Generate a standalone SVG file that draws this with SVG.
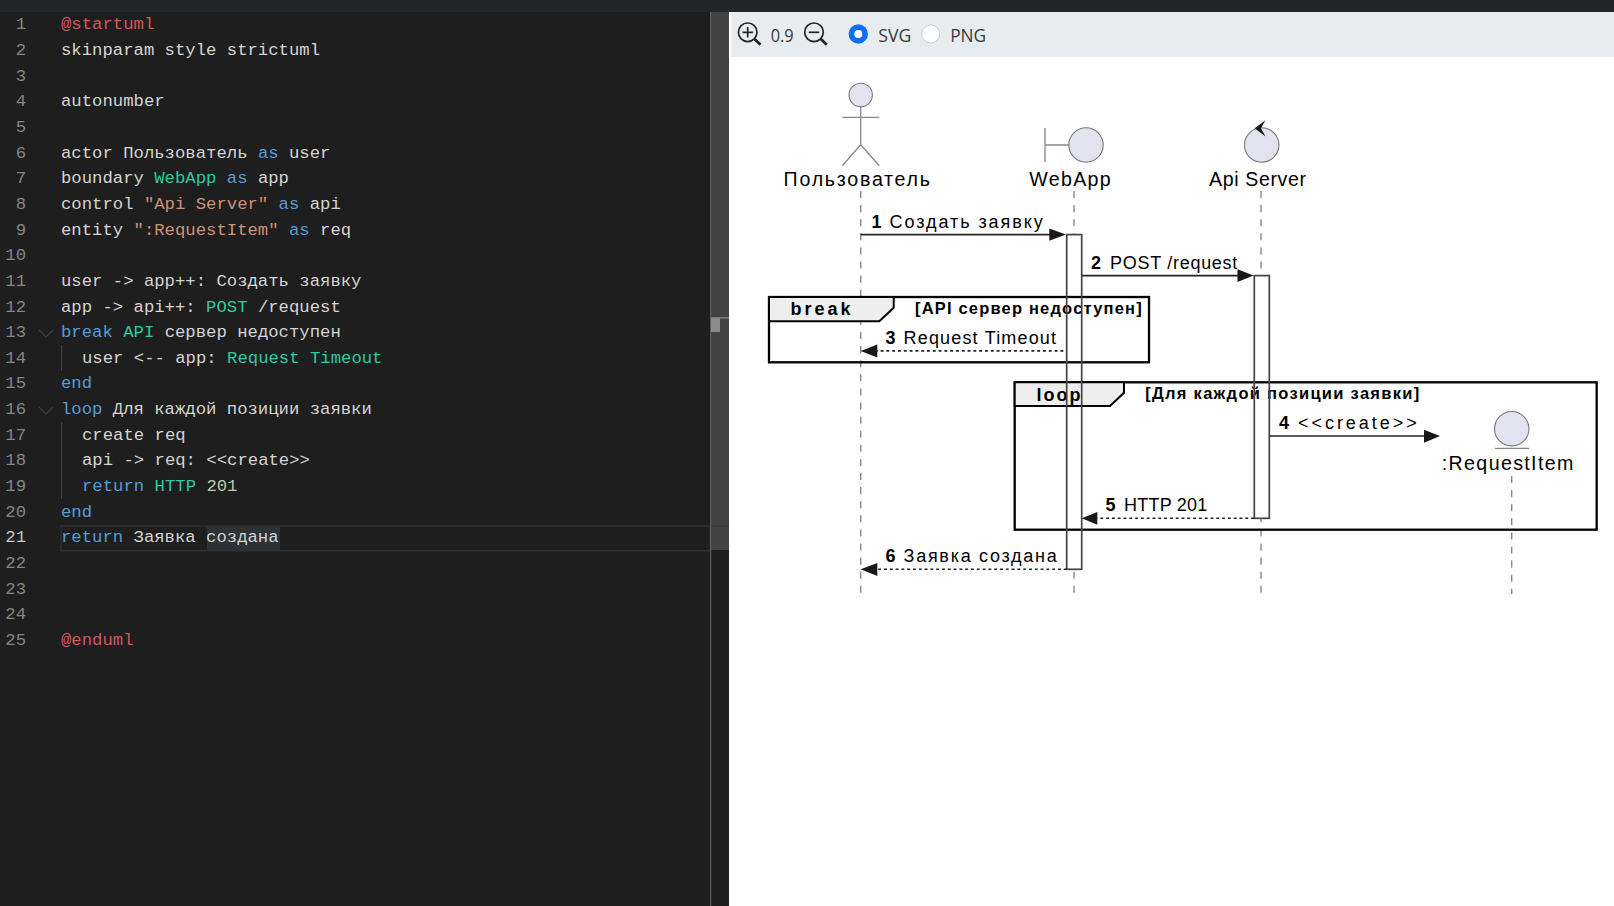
<svg xmlns="http://www.w3.org/2000/svg" width="1614" height="906" viewBox="0 0 1614 906">
<style>
.code{font-family:"Liberation Mono","DejaVu Sans Mono",monospace;font-size:17.28px;fill:#d4d4d4;white-space:pre}
.ln{font-family:"Liberation Mono","DejaVu Sans Mono",monospace;font-size:17.28px;fill:#858585;text-anchor:end}
.k{fill:#569cd6}.t{fill:#2fc9a3}.s{fill:#ce9178}.r{fill:#d05a5a}.n{fill:#b5cea8}
.tb{font-family:"Open Sans","Liberation Sans",sans-serif;font-size:18px;fill:#343a40}
.ic{fill:none;stroke:#212529;stroke-width:1.7}
.name{font-family:"Liberation Sans",Arial,sans-serif;font-size:19.6px;fill:#000}
.msg{font-family:"Liberation Sans",Arial,sans-serif;font-size:18px;fill:#000}
.num{font-family:"Liberation Sans",Arial,sans-serif;font-size:18px;font-weight:bold;fill:#000}
.fk{font-family:"Liberation Sans",Arial,sans-serif;font-size:18px;font-weight:bold;fill:#000}
.fc{font-family:"Liberation Sans",Arial,sans-serif;font-size:16.5px;font-weight:bold;fill:#000}
.ll{stroke:#888;stroke-width:1.4;stroke-dasharray:7.05 7.05;fill:none}
.shape{fill:#e2e2f0;stroke:#777;stroke-width:1.1}
.st{stroke:#888;stroke-width:1.3;fill:none}
.line{stroke:#222;stroke-width:1.7;fill:none}
.dash{stroke:#222;stroke-width:1.6;stroke-dasharray:2.9 2.9;fill:none}
.head{fill:#181818;stroke:none}
.act{stroke:#444;stroke-width:1.7;fill:none}
.frame{fill:none;stroke:#000;stroke-width:2.3}
.tab{fill:#eee;stroke:#000;stroke-width:2}
</style>
<rect width="1614" height="906" fill="#fff"/>
<g id="editor">
<rect x="0" y="12" width="729" height="894" fill="#1e1e1e"/>
<rect x="61" y="526" width="649" height="24.7" fill="none" stroke="#303030" stroke-width="1.4"/>
<rect x="207" y="526.5" width="73" height="24" fill="#2d3236"/>
<rect x="710" y="12" width="19" height="538" fill="#434343"/>
<rect x="711" y="525.4" width="18" height="1.2" fill="#3a3a3a"/>
<rect x="710" y="12" width="1.2" height="894" fill="#5c5c5c"/>
<rect x="711" y="317" width="18" height="1.8" fill="#787878"/>
<rect x="711" y="318" width="9" height="14" fill="#8a8a8a"/>
<path d="M61.6 345V371M61.6 422V499" stroke="#404040" stroke-width="1.2"/>
<path d="M39 330L46 337L53 330M39 407L46 414L53 407" fill="none" stroke="#3e3e3e" stroke-width="1.2"/>
</g>
<g id="line-numbers" transform="translate(0 -0.6)">
<text class="ln" x="26" y="30">1</text>
<text class="ln" x="26" y="55.7">2</text>
<text class="ln" x="26" y="81.3">3</text>
<text class="ln" x="26" y="107">4</text>
<text class="ln" x="26" y="132.6">5</text>
<text class="ln" x="26" y="158.3">6</text>
<text class="ln" x="26" y="183.9">7</text>
<text class="ln" x="26" y="209.6">8</text>
<text class="ln" x="26" y="235.2">9</text>
<text class="ln" x="26" y="260.9">10</text>
<text class="ln" x="26" y="286.5">11</text>
<text class="ln" x="26" y="312.2">12</text>
<text class="ln" x="26" y="337.8">13</text>
<text class="ln" x="26" y="363.5">14</text>
<text class="ln" x="26" y="389.1">15</text>
<text class="ln" x="26" y="414.8">16</text>
<text class="ln" x="26" y="440.4">17</text>
<text class="ln" x="26" y="466.1">18</text>
<text class="ln" x="26" y="491.7">19</text>
<text class="ln" x="26" y="517.4">20</text>
<text class="ln" x="26" y="543" style="fill:#c6c6c6">21</text>
<text class="ln" x="26" y="568.7">22</text>
<text class="ln" x="26" y="594.3">23</text>
<text class="ln" x="26" y="620">24</text>
<text class="ln" x="26" y="645.6">25</text>
</g>
<g id="code" transform="translate(0 -0.6)">
<text class="code r" x="61" y="30">@startuml</text>
<text class="code" x="61" y="55.7">skinparam style strictuml</text>
<text class="code" x="61" y="107">autonumber</text>
<text class="code" x="61" y="158.3">actor Пользователь <tspan class="k">as</tspan> user</text>
<text class="code" x="61" y="183.9">boundary <tspan class="t">WebApp</tspan> <tspan class="k">as</tspan> app</text>
<text class="code" x="61" y="209.6">control <tspan class="s">"Api Server"</tspan> <tspan class="k">as</tspan> api</text>
<text class="code" x="61" y="235.2">entity <tspan class="s">":RequestItem"</tspan> <tspan class="k">as</tspan> req</text>
<text class="code" x="61" y="286.5">user -&gt; app++: Создать заявку</text>
<text class="code" x="61" y="312.2">app -&gt; api++: <tspan class="t">POST</tspan> /request</text>
<text class="code" x="61" y="337.8"><tspan class="k">break</tspan> <tspan class="t">API</tspan> сервер недоступен</text>
<text class="code" x="82" y="363.5">user &lt;-- app: <tspan class="t">Request Timeout</tspan></text>
<text class="code k" x="61" y="389.1">end</text>
<text class="code" x="61" y="414.8"><tspan class="k">loop</tspan> Для каждой позиции заявки</text>
<text class="code" x="82" y="440.4">create req</text>
<text class="code" x="82" y="466.1">api -&gt; req: &lt;&lt;create&gt;&gt;</text>
<text class="code" x="82" y="491.7"><tspan class="k">return</tspan> <tspan class="t">HTTP</tspan> <tspan class="n">201</tspan></text>
<text class="code k" x="61" y="517.4">end</text>
<text class="code" x="61" y="543"><tspan class="k">return</tspan> Заявка создана</text>
<text class="code r" x="61" y="645.6">@enduml</text>
</g>
<g id="top-bar"><rect width="1614" height="12" fill="#22262b"/></g>
<g id="toolbar">
<rect x="731" y="12" width="883" height="45" fill="#e9ecef"/>
<circle class="ic" cx="747.7" cy="32.3" r="9.3"/>
<path class="ic" d="M742.5 32.3H753M747.7 27V37.5"/>
<path d="M754.5 39L760.5 44.7" stroke="#212529" stroke-width="2.8"/>
<text class="tb" x="770.7" y="41.7" textLength="23" lengthAdjust="spacingAndGlyphs">0.9</text>
<circle class="ic" cx="814" cy="32.3" r="9.3"/>
<path class="ic" d="M808.7 32.3H819.2"/>
<path d="M820.8 39L826.8 44.7" stroke="#212529" stroke-width="2.8"/>
<circle cx="858.3" cy="34" r="9.7" fill="#0d6efd"/>
<circle cx="858.3" cy="34" r="4" fill="#fff"/>
<text class="tb" x="878.3" y="41.7" textLength="33" lengthAdjust="spacingAndGlyphs">SVG</text>
<circle cx="930.7" cy="34" r="9" fill="#fff" stroke="#c8ccd0" stroke-width="1"/>
<text class="tb" x="950.2" y="41.7" textLength="36" lengthAdjust="spacingAndGlyphs">PNG</text>
</g>
<g id="lifelines">
<path class="ll" d="M860.7 191V593"/>
<path class="ll" d="M1074 191V593"/>
<path class="ll" d="M1261 191V593"/>
<path class="ll" d="M1511.7 476V594"/>
</g>
<g id="activations-fill">
<rect x="1066.7" y="234.3" width="15" height="335" fill="#fff"/>
<rect x="1254.3" y="275.3" width="15" height="243" fill="#fff"/>
</g>
<g id="frame-break">
<rect class="frame" x="769" y="297" width="380" height="65.3"/>
<path class="tab" d="M769 297H893.7V307.7L879.3 321.3H769Z"/>
<text class="fk" x="790.4" y="315" textLength="60" lengthAdjust="spacing">break</text>
<text class="fc" x="915" y="314.3" textLength="226.7" lengthAdjust="spacing">[API сервер недоступен]</text>
</g>
<g id="frame-loop">
<rect class="frame" x="1014.7" y="382.3" width="582" height="147.4"/>
<path class="tab" d="M1014.7 382.3H1124V392.7L1110 406H1014.7Z"/>
<text class="fk" x="1036.4" y="400.7" textLength="44" lengthAdjust="spacing">loop</text>
<text class="fc" x="1145.2" y="399.3" textLength="274" lengthAdjust="spacing">[Для каждой позиции заявки]</text>
</g>
<g id="activations">
<rect class="act" x="1066.7" y="234.6" width="15" height="334.7"/>
<rect class="act" x="1254.3" y="275.6" width="15" height="242.7"/>
</g>
<g id="user">
<circle class="shape" cx="860.7" cy="95" r="11.7"/>
<path class="st" d="M842.3 117.3H879.3M860.7 106.7V144.7L842.3 165.7M860.7 144.7L879.3 165.7"/>
<text class="name" x="783.6" y="185.7" textLength="146.4" lengthAdjust="spacing">Пользователь</text>
</g>
<g id="app">
<circle class="shape" cx="1086" cy="145" r="17.2"/>
<path class="st" d="M1045 128V162M1045 145H1069"/>
<text class="name" x="1029.3" y="185.7" textLength="81.4" lengthAdjust="spacing">WebApp</text>
</g>
<g id="api">
<circle class="shape" cx="1261.7" cy="145" r="17.2"/>
<path class="head" d="M1265.5 120.2L1254.7 128.3L1265.5 136.5L1260.9 128.3Z"/>
<text class="name" x="1209" y="185.7" textLength="97" lengthAdjust="spacing">Api Server</text>
</g>
<g id="req">
<circle class="shape" cx="1511.7" cy="428.7" r="17.2"/>
<path class="st" d="M1495 448.3H1529"/>
<text class="name" x="1441.8" y="470" textLength="131.5" lengthAdjust="spacing">:RequestItem</text>
</g>
<g id="connectors">
<path class="line" d="M860.7 234.6H1052"/>
<path class="head" d="M1065.9 234.6L1049.3 228.4V240.8Z"/>
<text class="num" x="871.4" y="228.3">1</text>
<text class="msg" x="889.5" y="228.3" textLength="153.2" lengthAdjust="spacing">Создать заявку</text>
<path class="line" d="M1081.7 275.6H1240"/>
<path class="head" d="M1253.5 275.6L1237.5 269.2V281.9Z"/>
<text class="num" x="1091" y="269">2</text>
<text class="msg" x="1110" y="269" textLength="127.3" lengthAdjust="spacing">POST /request</text>
<path class="dash" d="M1063.3 350.9H875"/>
<path class="head" d="M860.7 350.9L877.3 344.4V357.5Z"/>
<text class="num" x="885.4" y="344">3</text>
<text class="msg" x="903.6" y="344" textLength="152.4" lengthAdjust="spacing">Request Timeout</text>
<path class="line" d="M1269.3 436H1426"/>
<path class="head" d="M1440 436L1424 429.7V442.7Z"/>
<text class="num" x="1279" y="429">4</text>
<text class="msg" x="1298" y="429" textLength="118.7" lengthAdjust="spacing">&lt;&lt;create&gt;&gt;</text>
<path class="dash" d="M1254 518.3H1095"/>
<path class="head" d="M1081.7 518.3L1097.3 512V524.7Z"/>
<text class="num" x="1105.6" y="511.3">5</text>
<text class="msg" x="1124" y="511.3" textLength="83.3" lengthAdjust="spacing">HTTP 201</text>
<path class="dash" d="M1066.7 569.3H875"/>
<path class="head" d="M860.7 569.3L877.3 563V576Z"/>
<text class="num" x="885.4" y="561.7">6</text>
<text class="msg" x="903.6" y="561.7" textLength="153.1" lengthAdjust="spacing">Заявка создана</text>
</g>
</svg>
